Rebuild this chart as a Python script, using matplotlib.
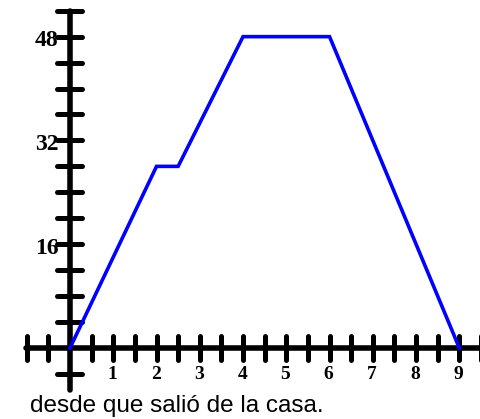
import matplotlib
matplotlib.use("Agg")
import matplotlib.pyplot as plt
import numpy as np

# Data
hours = [0, 2, 2.5, 4, 6, 9]
distance = [0, 28, 28, 48, 48, 0]
x_tick_labels = [1, 2, 3, 4, 5, 6, 7, 8, 9]
y_tick_labels = [16, 32, 48]
caption = "desde que salió de la casa."

fig = plt.figure(figsize=(4.8, 4.19), dpi=100)
ax = fig.add_axes([0, 0, 1, 1])
ax.set_xlim(-1.618, 9.478)
ax.set_ylim(-10.95, 53.65)
ax.axis("off")

lw_axis = 4.0
lw_tick = 3.6
# axes lines
ax.plot([-1.02, 9.5], [0, 0], color="black", lw=lw_axis, solid_capstyle="round", zorder=2)
ax.plot([0, 0], [-6.5, 52.0], color="black", lw=lw_axis, solid_capstyle="round", zorder=2)

sx = 43.26  # px per x unit
sy = 6.486  # px per y unit
half_x = 12 / sy
for xv in np.arange(-1.0, 9.51, 0.5):
    if abs(xv) < 1e-9:
        continue
    ax.plot([xv, xv], [-half_x, half_x], color="black", lw=lw_tick,
            solid_capstyle="round", zorder=2)
half_y = 12.5 / sx
for yv in np.arange(-4, 52.1, 4):
    if abs(yv) < 1e-9:
        continue
    ax.plot([-half_y, half_y], [yv, yv], color="black", lw=lw_tick,
            solid_capstyle="round", zorder=2)

# data line
ax.plot(hours, distance, color="#0000ff", lw=2.6, zorder=3, solid_joinstyle="miter")

# tick labels
for v in x_tick_labels:
    ax.text(v - 0.02, -4.1, str(v), ha="center", va="center", fontsize=14,
            fontweight="bold", family="Liberation Serif")
for v in y_tick_labels:
    ax.text(-0.27, v - 0.6, str(v), ha="right", va="center", fontsize=17,
            fontweight="bold", family="Liberation Serif")

ax.text(-0.93, -8.9, caption, ha="left", va="center", fontsize=17.5,
        family="Liberation Sans")

fig.savefig("out.png", dpi=100)
